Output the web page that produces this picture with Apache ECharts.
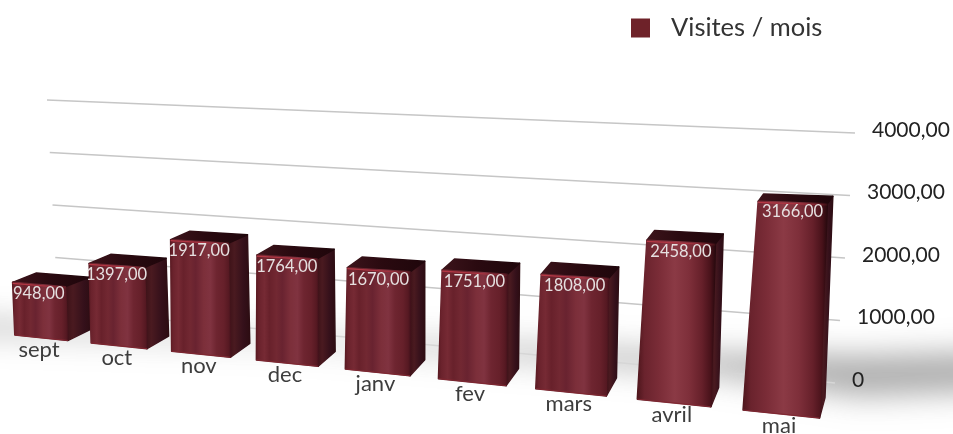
<!DOCTYPE html>
<html>
<head>
<meta charset="utf-8">
<style>html,body{margin:0;padding:0;background:#fff}#chart{width:953px;height:434px}</style>
<script src="https://cdn.jsdelivr.net/npm/echarts@6/dist/echarts.min.js"></script>
</head>
<body>
<div id="chart"></div>
<script>
const categories = ['sept', 'oct', 'nov', 'dec', 'janv', 'fev', 'mars', 'avril', 'mai'];
const visites = [948, 1397, 1917, 1764, 1670, 1751, 1808, 2458, 3166];
const tickValues = [0, 1000, 2000, 3000, 4000];
const tickLabels = ['0', '1000,00', '2000,00', '3000,00', '4000,00'];
const seriesName = 'Visites / mois';
const valueMax = 4000;

const W = 953, H = 434;
const chart = echarts.init(document.getElementById('chart'), null, { renderer: 'canvas' });
const FONT = 'Lato, "Open Sans", sans-serif';

// Front-of-bars baseline position along the receding category axis.
const baseX = s => 3.7 + 73.6 * s + 2.1 * s * s;

// Perspective mapping: sc = slot centre, off = offset within slot,
// v = value as a fraction of the axis, d = depth (0 front, 1 back).
function project(sc, off, v, d) {
  const s = sc + off;
  const x0 = baseX(s);
  const xc = baseX(sc);
  const lean = (-11 + 3 * sc) * v;
  const taper = -off * v * sc * 1.55;
  const x = x0 + lean + taper + d * (25 - 2.3 * sc);
  const y = 333.5 + 0.103 * x0
    - v * (222 + 5.3 * sc)
    - (x0 - xc) * 0.09 * v
    - d * (11 + 1.1 * sc) * (1 - 0.8 * v);
  return [x, y];
}

function hGrad(stops) {
  return new echarts.graphic.LinearGradient(0, 0, 1, 0,
    stops.map(([offset, color]) => ({ offset, color })));
}

const frontStops = [
  [0, '#571820'], [0.05, '#6a222c'], [0.14, '#762a34'], [0.22, '#68212b'],
  [0.33, '#722832'], [0.42, '#692330'], [0.55, '#7c2f3a'], [0.66, '#803340'],
  [0.76, '#6e2530'], [0.88, '#66202a'], [0.96, '#561922'], [1, '#40101a']
];
// The nearest bars catch more light in the middle and fall off harder at the edge.
const nearFrontStops = [
  [0, '#4c151b'], [0.1, '#6a232d'], [0.28, '#7a2c37'], [0.48, '#8b3a45'],
  [0.66, '#7e2f3a'], [0.82, '#66202a'], [0.93, '#48121a'], [1, '#22070c']
];
const sideStops = [[0, '#3a1016'], [0.3, '#4a1a20'], [0.7, '#34101a'], [1, '#2c0c11']];
const topStops = [[0, '#3c141b'], [0.45, '#2a0a10'], [1, '#1f060b']];

function renderBar(params, api) {
  const i = api.value(0);
  const val = api.value(1);
  const pt = api.coord([i, val]);
  const sc = pt[0] / W * categories.length;
  const v = 1 - pt[1] / H;
  const hw = api.size([1, 0])[0] / W * categories.length * 0.35;
  const P = (off, vv, d) => project(sc, off, vv, d);
  const poly = (points, fill) => ({
    type: 'polygon',
    shape: { points },
    style: { fill, stroke: fill, lineWidth: 1.5, lineJoin: 'round' }
  });
  const fl0 = P(-hw, 0, 0), fr0 = P(hw, 0, 0), fl1 = P(-hw, v, 0), fr1 = P(hw, v, 0);
  const br0 = P(hw, 0, 1), br1 = P(hw, v, 1), bl1 = P(-hw, v, 1);
  const mid = P(0, v, 0);
  const low = P(0, 0, 0);
  return {
    type: 'group',
    children: [
      poly([fr0, br0, br1, fr1], hGrad(sideStops)),
      poly([fl1, bl1, br1, fr1], hGrad(topStops)),
      poly([fl0, fr0, fr1, fl1], hGrad(sc > 7 ? nearFrontStops : frontStops)),
      {
        type: 'line',
        shape: { x1: fl1[0], y1: fl1[1] + 1, x2: fr1[0], y2: fr1[1] + 1 },
        style: {
          lineWidth: 1.2,
          stroke: hGrad([[0, '#b93a47'], [0.6, '#a83340'], [1, 'rgba(150,40,50,0.15)']])
        }
      },
      {
        type: 'line',
        shape: { x1: fl0[0], y1: fl0[1], x2: fr0[0], y2: fr0[1] },
        style: { lineWidth: 1, stroke: '#7f2731' }
      },
      {
        type: 'text',
        style: {
          x: mid[0], y: mid[1] + 9.5,
          text: val.toFixed(2).replace('.', ','),
          fill: '#e6e0e0', font: '16.5px ' + FONT,
          align: 'center', verticalAlign: 'middle'
        }
      },
      {
        type: 'text',
        style: {
          x: low[0] - 2, y: low[1] + 12,
          text: categories[i],
          fill: '#3d3d3d', font: '22px ' + FONT,
          align: 'center', verticalAlign: 'middle'
        }
      }
    ]
  };
}

// Slanted rules on the back wall, with their value labels at the right-hand end.
function renderRule(params, api) {
  const val = api.value(1);
  const v = 1 - api.coord([0, val])[1] / H;
  const xL = 58 - 11 * v, yL = 310 - 210 * v;
  const xR = 835 + 20 * v, yR = 383 - 250 * v;
  return {
    type: 'group',
    children: [
      {
        type: 'line',
        shape: { x1: xL, y1: yL, x2: xR, y2: yR },
        style: { stroke: val === 0 ? '#d6d6d6' : '#c6c6c6', lineWidth: 1.4 }
      },
      {
        type: 'text',
        style: {
          x: xR + 17, y: yR - 3,
          text: tickLabels[params.dataIndex],
          fill: '#222', font: '21px ' + FONT,
          align: 'left', verticalAlign: 'middle'
        }
      }
    ]
  };
}

// The shape sits above the canvas so only its blurred shadow lands on the floor.
const SHADOW_LIFT = 700;
const floorShadow = [[-40, 320], [300, 336], [700, 354], [860, 356], [1000, 352],
                     [1000, 390], [860, 396], [700, 372], [300, 342], [-40, 332]];

chart.setOption({
  animation: false,
  backgroundColor: '#fff',
  grid: { left: 0, right: 0, top: 0, bottom: 0 },
  xAxis: { type: 'category', data: categories, show: false },
  yAxis: { type: 'value', min: 0, max: valueMax, show: false },
  legend: {
    left: 626, top: 10,
    itemWidth: 19, itemHeight: 19,
    data: [{ name: seriesName, icon: 'rect' }],
    selectedMode: false,
    textStyle: { fontFamily: FONT, fontSize: 25.5, color: '#333', padding: [0, 0, 0, 16] }
  },
  graphic: [{
    type: 'polygon',
    z: 0,
    silent: true,
    shape: { points: floorShadow.map(([x, y]) => [x, y - SHADOW_LIFT]) },
    style: { fill: '#000', shadowColor: 'rgba(120,120,120,0.62)', shadowBlur: 30, shadowOffsetY: SHADOW_LIFT }
  }],
  series: [
    {
      type: 'custom', name: 'rules', z: 1, silent: true,
      renderItem: renderRule,
      data: tickValues.map((v, i) => [i, v]),
      encode: { x: 0, y: 1 }
    },
    {
      type: 'custom', name: seriesName, z: 2, silent: true,
      itemStyle: { color: '#6e2229' },
      renderItem: renderBar,
      data: visites.map((v, i) => [i, v]),
      encode: { x: 0, y: 1 }
    }
  ]
});
</script>
</body>
</html>
